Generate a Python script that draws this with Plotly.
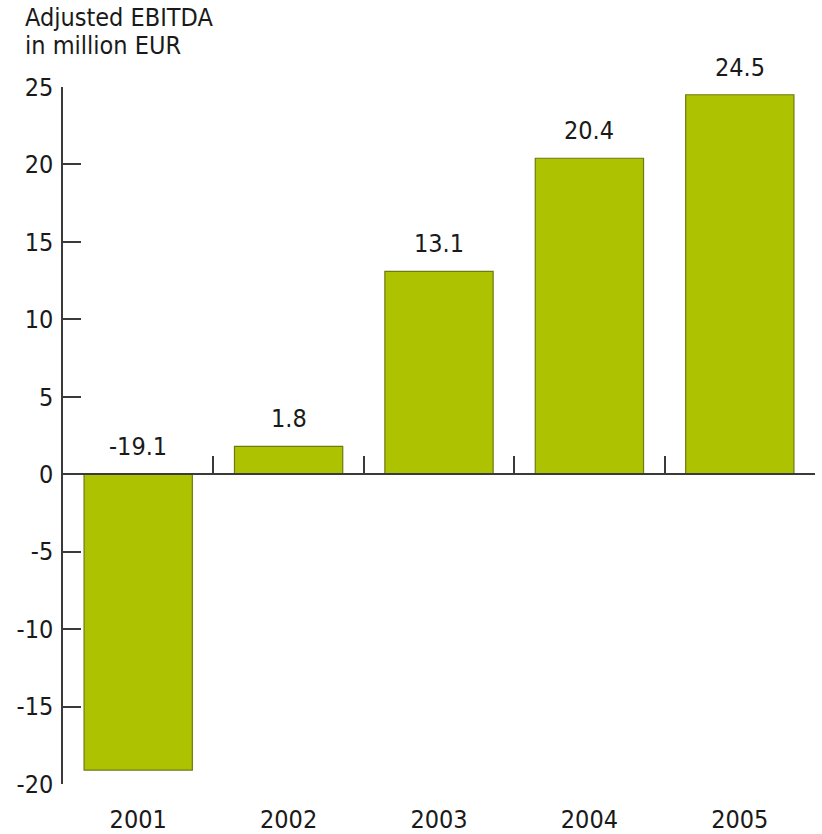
import plotly.graph_objects as go

years = ["2001", "2002", "2003", "2004", "2005"]
ebitda = [-19.1, 1.8, 13.1, 20.4, 24.5]
labels = ["-19.1", "1.8", "13.1", "20.4", "24.5"]
y_ticks = [-20, -15, -10, -5, 0, 5, 10, 15, 20, 25]
y_tick_text = ["-20", "-15", "-10", "-5", "0", "5", "10", "15", "20", "25"]
boundaries = [0.5, 1.5, 2.5, 3.5, 4.5]
title_lines = ["Adjusted EBITDA", "in million EUR"]

FONT = "DejaVu Sans Condensed, DejaVu Sans"
FS = 25
TXT = "#1a1a1a"
AX = "#3a3a3a"

W, H = 822, 834
ML, MR, MT, MB = 63, 7, 87, 50
PW, PH = W - ML - MR, H - MT - MB

fig = go.Figure()
fig.add_trace(go.Bar(
    x=list(range(len(years))), y=ebitda,
    width=0.72,
    marker=dict(color="#ADC200", line=dict(color="#6F7A12", width=1.2)),
    showlegend=False, hoverinfo="skip",
))
# invisible trace to activate the zero-line axis with category-boundary ticks
fig.add_trace(go.Scatter(x=[0], y=[0], xaxis="x2", mode="markers",
                         marker=dict(opacity=0), showlegend=False, hoverinfo="skip"))

for i, (v, t) in enumerate(zip(ebitda, labels)):
    fig.add_annotation(x=i, y=max(v, 0), text=t, showarrow=False,
                       yanchor="bottom", yshift=11,
                       font=dict(family=FONT, size=FS, color=TXT))

for k, line in enumerate(title_lines):
    ypx = 18 + 28 * k
    fig.add_annotation(xref="paper", yref="paper",
                       x=(23 - ML) / PW, y=1 + (MT - ypx) / PH,
                       xanchor="left", yanchor="middle", text=line, showarrow=False,
                       font=dict(family=FONT, size=FS, color=TXT))

ymin, ymax = -20, 25
fig.update_layout(
    width=W, height=H,
    margin=dict(l=ML, r=MR, t=MT, b=MB, autoexpand=False),
    paper_bgcolor="white", plot_bgcolor="white",
    font=dict(family=FONT, size=FS, color=TXT),
    xaxis=dict(range=[-0.5, 4.5], tickmode="array", tickvals=list(range(len(years))),
               ticktext=years, showline=False, ticks="", showgrid=False,
               zeroline=False, ticklabelstandoff=18, automargin=False),
    xaxis2=dict(range=[-0.5, 4.5], overlaying="x", anchor="free",
                position=(0 - ymin) / (ymax - ymin), side="bottom",
                tickmode="array", tickvals=boundaries, ticks="inside", ticklen=17,
                tickwidth=1.5, tickcolor=AX, showticklabels=False,
                showline=True, linecolor=AX, linewidth=1.5, showgrid=False,
                zeroline=False, automargin=False),
    yaxis=dict(range=[ymin, ymax], tickmode="array", tickvals=y_ticks,
               ticktext=y_tick_text,
               ticks="inside", ticklen=18, tickwidth=1.5, tickcolor=AX,
               showline=True, linecolor=AX, linewidth=1.5, showgrid=False,
               zeroline=False, ticklabelstandoff=3, automargin=False),
    bargap=0.28,
)

fig.write_html("out.html")
